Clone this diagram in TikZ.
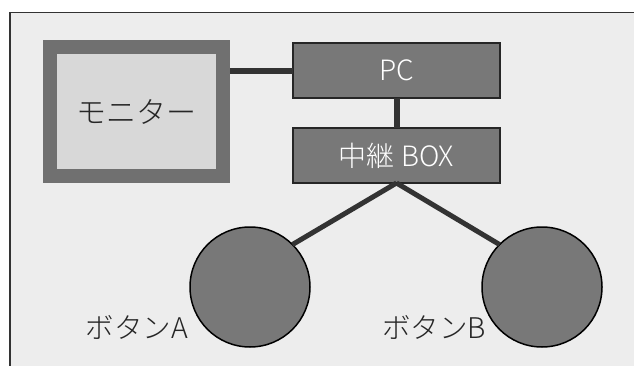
\documentclass[tikz,border=0pt]{standalone}
\usepackage{fontspec}
\setmainfont{Noto Sans CJK JP}[UprightFont=* Light]
\definecolor{bgin}{HTML}{EDEDED}
\definecolor{monborder}{HTML}{707070}
\definecolor{moninner}{HTML}{D8D8D8}
\definecolor{boxfill}{HTML}{787878}
\definecolor{linec}{HTML}{333333}
\tikzset{
  devbox/.style={draw=black!85, line width=1.2pt, fill=boxfill, minimum width=207pt, minimum height=55pt, inner sep=0pt, outer sep=0pt, text=white, font=\fontsize{28}{28}\selectfont},
  btn/.style={circle, draw=black, line width=1.5pt, fill=boxfill, minimum size=120pt, inner sep=0pt, outer sep=0pt},
  wire/.style={draw=linec, line width=6pt},
  lbl/.style={font=\fontsize{28.5}{28.5}\selectfont, inner sep=0pt, text=black!85}
}
\begin{document}
\begin{tikzpicture}[x=1pt,y=-1pt]
\useasboundingbox (0,0) rectangle (634,366);
\clip (0,0) rectangle (634,366);
\fill[white] (0,0) rectangle (634,366);
\draw[fill=bgin, line width=1.8pt, draw=black!80] (10,12.5) rectangle (660,400);
% monitor
\node (mon) [draw=monborder, line width=14pt, fill=moninner, minimum width=173pt, minimum height=129pt, inner sep=0pt, outer sep=0pt, lbl, font=\fontsize{30}{30}\selectfont] at (136.5,111.5) {モニター};
% PC and relay box
\node (pc) [devbox] at (396.5,70.5) {PC};
\node (relay) [devbox] at (396.5,155.5) {中継 BOX};
% buttons
\node (ba) [btn] at (250,287) {};
\node (bb) [btn] at (542,287) {};
\node (la) [lbl, anchor=east] at (188,327) {ボタンA};
\node (lb) [lbl, anchor=east] at (486,327) {ボタンB};
% wires
\coordinate (m1) at (230,71);
\draw[wire] (m1) -- (m1 -| pc.west);
\draw[wire] (pc.south) -- (relay.north);
\draw[wire, line width=5pt] (relay.south) -- (ba.45);
\draw[wire, line width=5pt] (relay.south) -- (bb.135);
\end{tikzpicture}
\end{document}
